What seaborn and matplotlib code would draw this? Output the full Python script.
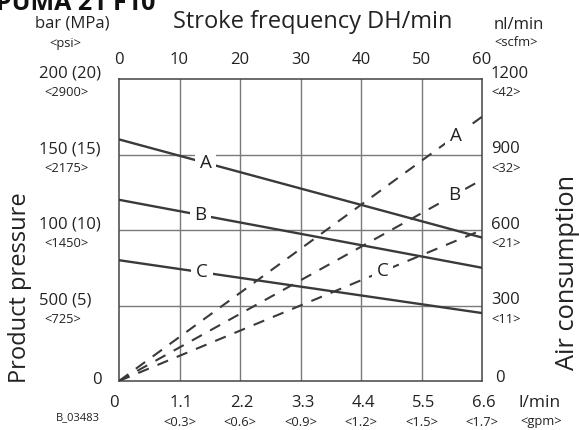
import matplotlib
matplotlib.use("Agg")
import matplotlib.pyplot as plt
import seaborn as sns
import pandas as pd
from matplotlib import transforms

# ---- data ----
stroke = [0, 60]
pressure_a = [160, 95]
pressure_b = [120, 75]
pressure_c = [80, 45]
air_a = [0, 1050]
air_b = [0, 800]
air_c = [0, 600]

stroke_ticks = [0, 10, 20, 30, 40, 50, 60]
flow_labels = ["0", "1.1", "2.2", "3.3", "4.4", "5.5", "6.6"]
gpm_labels = ["", "<0.3>", "<0.6>", "<0.9>", "<1.2>", "<1.5>", "<1.7>"]
pressure_ticks = [0, 50, 100, 150, 200]
pressure_labels = ["0", "500 (5)", "100 (10)", "150 (15)", "200 (20)"]
psi_labels = ["", "<725>", "<1450>", "<2175>", "<2900>"]
air_ticks = [0, 300, 600, 900, 1200]
air_labels = ["0", "300", "600", "900", "1200"]
scfm_labels = ["", "<11>", "<21>", "<32>", "<42>"]

sns.set_theme(style="white")
plt.rcParams["font.family"] = ["Open Sans", "DejaVu Sans"]

W, H = 579, 430
fig = plt.figure(figsize=(W / 100, H / 100), dpi=100)
L, R, T, B = 119, 482, 79, 381
ax = fig.add_axes([L / W, 1 - B / H, (R - L) / W, (B - T) / H])
ax2 = ax.twinx()

ax.set_xlim(0, 60)
ax.set_ylim(0, 200)
ax2.set_ylim(0, 1200)

grid_c = "#7a7a7a"
line_c = "#3a3a3a"
for s in ax.spines.values():
    s.set_color("#444444")
    s.set_linewidth(1.1)
for s in ax2.spines.values():
    s.set_visible(False)

for x in stroke_ticks[1:-1]:
    ax.axvline(x, color=grid_c, lw=1.0, zorder=1)
for y in pressure_ticks[1:-1]:
    ax.axhline(y, color=grid_c, lw=1.0, zorder=1)

# solid pressure lines
for vals in (pressure_a, pressure_b, pressure_c):
    df = pd.DataFrame({"stroke": stroke, "p": vals})
    sns.lineplot(data=df, x="stroke", y="p", ax=ax, color=line_c, lw=1.7, zorder=3)

# dashed air lines
for vals in (air_a, air_b, air_c):
    df = pd.DataFrame({"stroke": stroke, "air": vals})
    sns.lineplot(data=df, x="stroke", y="air", ax=ax2, color=line_c, lw=1.5, zorder=3)
    ln = ax2.get_lines()[-1]
    ln.set_dashes((5.5, 4.5))

ax.set_xticks([])
ax.set_yticks([])
ax2.set_yticks([])
ax.set_xlabel("")
ax.set_ylabel("")
ax2.set_ylabel("")

box = dict(boxstyle="square,pad=0.25", fc="white", ec="none")
lab_fs = 13.5
# labels on solid lines
for name, vals, xpos in (("A", pressure_a, 14.3), ("B", pressure_b, 13.5), ("C", pressure_c, 13.7)):
    yv = vals[0] + (vals[1] - vals[0]) * xpos / 60
    ax.text(xpos, yv, name, ha="center", va="center", fontsize=lab_fs, color="#222222",
            bbox=box, zorder=5)
for name, vals, xpos in (("A", air_a, 55.7), ("B", air_b, 55.4), ("C", air_c, 43.6)):
    yv = vals[0] + (vals[1] - vals[0]) * xpos / 60
    ax2.text(xpos, yv, name, ha="center", va="center", fontsize=lab_fs, color="#222222",
             bbox=box, zorder=5)

txt_c = "#222222"
def px(x):
    return x / W
def py(y):
    return 1 - y / H

main_fs = 12
sub_fs = 9.3

# left tick labels
bl = transforms.blended_transform_factory(fig.transFigure, ax.transData)
off_main = transforms.ScaledTranslation(0, 5 / 100, fig.dpi_scale_trans)
off_sub = transforms.ScaledTranslation(0, -14 / 100, fig.dpi_scale_trans)
for v, m, s in zip(pressure_ticks, pressure_labels, psi_labels):
    if v == 0:
        fig.text(px(102), py(380), m, ha="right", va="center", fontsize=main_fs, color=txt_c)
        continue
    fig.text(px(39), v, m, transform=bl + off_main, ha="left", va="center",
             fontsize=main_fs, color=txt_c)
    fig.text(px(44), v, s, transform=bl + off_sub, ha="left", va="center",
             fontsize=sub_fs, color=txt_c)

# right tick labels
br = transforms.blended_transform_factory(fig.transFigure, ax2.transData)
for v, m, s in zip(air_ticks, air_labels, scfm_labels):
    if v == 0:
        fig.text(px(495), py(378), m, ha="left", va="center", fontsize=main_fs, color=txt_c)
        continue
    fig.text(px(491), v, m, transform=br + off_main, ha="left", va="center",
             fontsize=main_fs, color=txt_c)
    fig.text(px(491), v, s, transform=br + off_sub, ha="left", va="center",
             fontsize=sub_fs, color=txt_c)

# top and bottom tick labels
bt = transforms.blended_transform_factory(ax.transData, fig.transFigure)
for v in stroke_ticks:
    fig.text(v, py(60), str(v), transform=bt, ha="center", va="center", fontsize=main_fs, color=txt_c)
for v, m, s in zip(stroke_ticks, flow_labels, gpm_labels):
    xo = transforms.ScaledTranslation(-5 / 100 if v == 0 else 2 / 100, 0, fig.dpi_scale_trans)
    fig.text(v, py(403), m, transform=bt + xo, ha="center", va="center", fontsize=main_fs, color=txt_c)
    if s:
        fig.text(v, py(422), s, transform=bt, ha="center", va="center", fontsize=sub_fs, color=txt_c)

# axis titles / units
fig.text(px(313), py(22), "Stroke frequency DH/min", ha="center", va="center", fontsize=17, color=txt_c)
fig.text(px(20), py(288), "Product pressure", ha="center", va="center", rotation=90, fontsize=17, color=txt_c)
fig.text(px(567), py(272), "Air consumption", ha="center", va="center", rotation=90, fontsize=18.3, color=txt_c)
fig.text(px(72), py(23), "bar (MPa)", ha="center", va="center", fontsize=main_fs, color=txt_c)
fig.text(px(65), py(43), "<psi>", ha="center", va="center", fontsize=sub_fs, color=txt_c)
fig.text(px(494), py(25), "nl/min", ha="left", va="center", fontsize=main_fs, color=txt_c)
fig.text(px(494), py(43), "<scfm>", ha="left", va="center", fontsize=sub_fs, color=txt_c)
fig.text(px(519), py(403), "l/min", ha="left", va="center", fontsize=12.5, color=txt_c)
fig.text(px(520), py(422), "<gpm>", ha="left", va="center", fontsize=sub_fs, color=txt_c)
fig.text(px(56), py(418), "B_03483", ha="left", va="center", fontsize=8, color=txt_c)
fig.text(px(-4), py(10), "PUMA 21 F10", ha="left", va="baseline", fontsize=18,
         fontweight="bold", color="#111111")

fig.savefig("out.png", dpi=100)
